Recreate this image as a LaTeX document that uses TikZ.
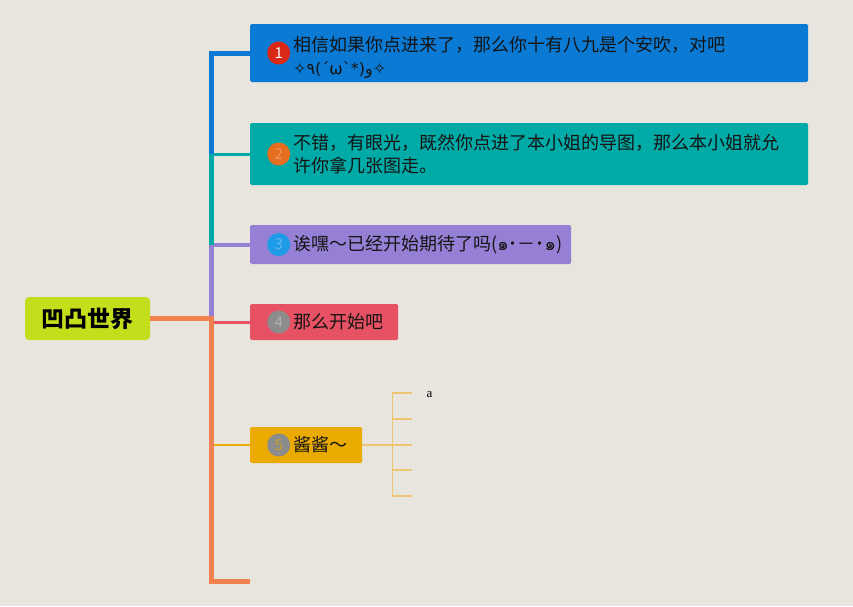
\documentclass[tikz,border=0pt]{standalone}
\usepackage{fontspec}
\setmainfont{Noto Sans CJK SC}
\newfontfamily\kaofont{DejaVu Sans}
\newfontfamily\thaifont[Script=Thai]{Loma}
\newfontfamily\notefont{Liberation Serif}
\usetikzlibrary{positioning}
\definecolor{mmbg}{RGB}{232,229,222}
\definecolor{mmtext}{RGB}{20,20,20}
\definecolor{mmroot}{RGB}{196,222,28}
\definecolor{mmorange}{RGB}{240,130,80}
\definecolor{mmblue}{RGB}{10,122,212}
\definecolor{mmteal}{RGB}{0,170,166}
\definecolor{mmpurple}{RGB}{150,128,214}
\definecolor{mmred}{RGB}{230,82,100}
\definecolor{mmyellow}{RGB}{234,170,0}
\definecolor{mmtwig}{RGB}{236,198,110}

\begin{document}
\begin{tikzpicture}[x=1pt,y=-1pt,font=\fontsize{18}{23}\selectfont,
    topic/.style={rectangle,rounded corners=1.5pt,minimum height=36pt,inner sep=0pt,anchor=west},
    badge/.style={circle,minimum size=23pt,inner sep=0pt,font=\fontsize{15}{15}\selectfont},
    txt/.style={align=left,inner sep=0pt,text=mmtext},
    bar/.style={line width=5pt},
    twig/.style={mmtwig,line width=1.3pt}]
    \fill[mmbg] (0,0) rectangle (853,606);
    \useasboundingbox (0,0) rectangle (853,606);
    \node[rectangle,rounded corners=4pt,fill=mmroot,minimum width=125pt,minimum height=43pt,
      font=\fontsize{23}{23}\selectfont\bfseries] (root) at (87.5,318.5) {凹凸世界};
    % topics
    \node[topic,fill=mmblue,minimum width=558pt,minimum height=58pt] (t1) at (250,53) {};
    \node[topic,fill=mmteal,minimum width=558pt,minimum height=62pt] (t2) at (250,154) {};
    \node[topic,fill=mmpurple,minimum width=321pt,minimum height=39pt] (t3) at (250,244.5) {};
    \node[topic,fill=mmred,minimum width=148pt] (t4) at (250,322) {};
    \node[topic,fill=mmyellow,minimum width=112pt] (t5) at (250,445) {};
    \node[badge,fill={rgb,255:red,218;green,40;blue,22},text=white,right=17pt of t1.west] (m1) {1};
    \node[badge,fill={rgb,255:red,230;green,110;blue,30},text={rgb,255:red,240;green,150;blue,90},right=17pt of t2.west] (m2) {2};
    \node[badge,fill={rgb,255:red,30;green,155;blue,230},text={rgb,255:red,100;green,180;blue,240},right=17pt of t3.west] (m3) {3};
    \node[badge,fill=black!45,text=black!30,right=17pt of t4.west] (m4) {4};
    \node[badge,fill=black!45,text={rgb,255:red,200;green,160;blue,40},right=17pt of t5.west] (m5) {5};
    \node[txt,right=43pt of t1.west,yshift=-4pt] (x1) {相信如果你点进来了，那么你十有八九是个安吹，对吧\\
      {\kaofont\fontsize{16}{23}\selectfont ✧٩(ˊωˋ*)و✧}};
    \node[txt,right=43pt of t2.west] (x2) {不错，有眼光，既然你点进了本小姐的导图，那么本小姐就允\\许你拿几张图走。};
    \node[txt,right=43pt of t3.west] (x3) {诶嘿～已经开始期待了吗({\thaifont ๑}˙－˙{\thaifont ๑})};
    \node[txt,right=43pt of t4.west] (x4) {那么开始吧};
    \node[txt,right=43pt of t5.west] (x5) {酱酱～};
    % branches
    \coordinate (bus) at (211,0);
    \coordinate (tail) at (250,581);
    \foreach \n/\c/\w in {t2/mmteal/3,t3/mmpurple/4,t4/mmred/3,t5/mmyellow/2}
      \draw[\c,line width=\w pt] (bus |- \n.west) -- (\n.west);
    \draw[bar,mmblue] (t1.west) -| (bus |- t2.west);
    \draw[bar,mmteal] (bus |- t2.west) -- (bus |- t3.west);
    \draw[bar,mmpurple] (bus |- t3.west) -- (bus |- root.east);
    \draw[bar,mmorange] (root.east) -- (bus |- root.east) -- (bus |- tail) -- (tail);
    % sub topics of 5
    \coordinate (fork) at ([xshift=30pt]t5.east);
    \draw[twig] (t5.east) -- (fork);
    \draw[twig] ([yshift=52pt]fork) -- ([yshift=-51pt]fork);
    \foreach \i/\dy in {1/52,2/26,3/0,4/-25,5/-51}
      \draw[twig] ([yshift=\dy pt]fork) -- ([xshift=20pt,yshift=\dy pt]fork) coordinate (leaf\i);
    \node[right=14pt of leaf1,yshift=-2pt,inner sep=0pt,font=\notefont\fontsize{13}{13}\selectfont] (leafa) {a};
  \end{tikzpicture}
\end{document}
